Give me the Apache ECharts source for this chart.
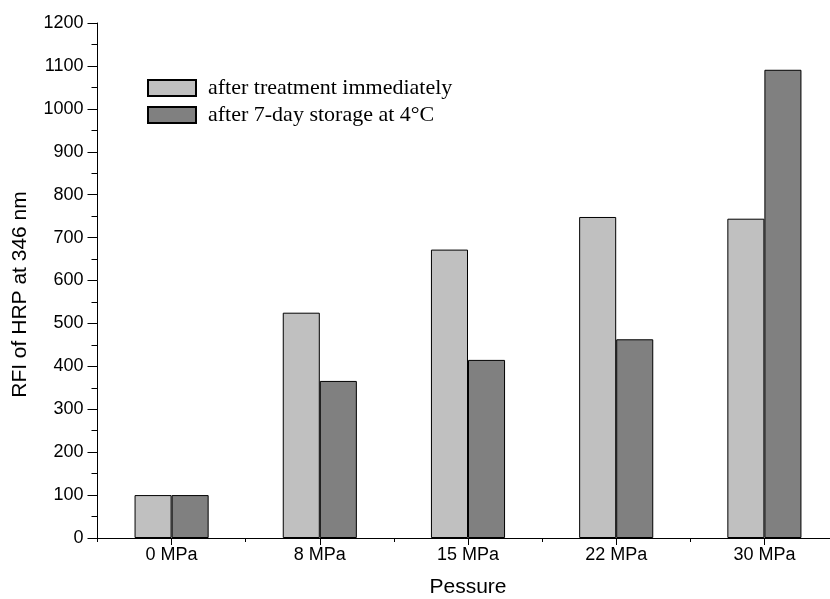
<!DOCTYPE html>
<html>
<head>
<meta charset="utf-8">
<title>RFI of HRP</title>
<script src="https://cdn.jsdelivr.net/npm/echarts@6/dist/echarts.min.js"></script>
<style>
    html, body {margin: 0; padding: 0; background: #fff;}
    #chart {width: 830px; height: 599px;}
</style>
</head>
<body>
<div id="chart"></div>
<script>
// data
var pressures = ['0 MPa', '8 MPa', '15 MPa', '22 MPa', '30 MPa'];
var seriesNames = ['after treatment immediately', 'after 7-day storage at 4°C'];
var immediately = [100, 525, 672, 748, 744];
var storage7d = [100, 366, 415, 463, 1091];

var myChart = echarts.init(document.getElementById('chart'), null, {renderer: 'canvas'});

var sans = 'Liberation Sans, Arial, sans-serif';
var serif = 'Liberation Serif, Times New Roman, serif';

var option = {
    animation: false,
    backgroundColor: '#fff',
    grid: {
        left: 97.5,
        top: 23,
        width: 741,
        bottom: 61,
        containLabel: false,
        outerBoundsMode: 'none'   // v6: don't shrink the grid to fit labels
    },
    legend: {
        orient: 'vertical',
        left: 142,
        top: 72,
        itemWidth: 48,
        itemHeight: 16,
        itemGap: 5,
        icon: 'rect',
        data: seriesNames,
        textStyle: {
            fontFamily: serif,
            fontSize: 22,
            color: '#000',
            lineHeight: 22,
            padding: [0, 0, 0, 7]
        }
    },
    xAxis: [{
        type: 'category',
        position: 'bottom',
        data: pressures,
        name: 'Pessure',
        nameLocation: 'middle',
        nameGap: 39,
        nameTextStyle: {fontFamily: sans, fontSize: 21, color: '#000'},
        axisLine: {show: true, lineStyle: {color: '#000', width: 1}},
        axisTick: {show: true, alignWithLabel: true, length: 7, lineStyle: {color: '#000'}},
        axisLabel: {fontFamily: sans, fontSize: 18, color: '#000', margin: 8},
        splitLine: {show: false}
    }, {
        // short ticks at category borders
        type: 'category',
        position: 'bottom',
        data: pressures,
        axisLine: {show: false},
        axisTick: {show: true, alignWithLabel: false, length: 4, lineStyle: {color: '#000'}},
        axisLabel: {show: false},
        splitLine: {show: false}
    }],
    yAxis: {
        type: 'value',
        min: 0,
        max: 1200,
        interval: 100,
        name: 'RFI of HRP at 346 nm',
        nameLocation: 'middle',
        nameGap: 67,
        nameTextStyle: {fontFamily: sans, fontSize: 21, color: '#000', padding: [0, 28, 0, 0]},
        axisLine: {show: true, lineStyle: {color: '#000', width: 1}},
        axisTick: {show: true, inside: false, length: 10, lineStyle: {color: '#000'}},
        minorTick: {show: true, splitNumber: 2, length: 6, lineStyle: {color: '#000'}},
        axisLabel: {
            fontFamily: sans, fontSize: 18, color: '#000', margin: 14,
            formatter: function (v) { return String(v); }
        },
        splitLine: {show: false}
    },
    series: [{
        name: seriesNames[0],
        type: 'bar',
        data: immediately,
        barGap: '0%',
        barCategoryGap: '50%',
        itemStyle: {color: '#c0c0c0', borderColor: '#000', borderWidth: 1}
    }, {
        name: seriesNames[1],
        type: 'bar',
        data: storage7d,
        barGap: '0%',
        barCategoryGap: '50%',
        itemStyle: {color: '#808080', borderColor: '#000', borderWidth: 1}
    }]
};

myChart.setOption(option);
</script>
</body>
</html>
